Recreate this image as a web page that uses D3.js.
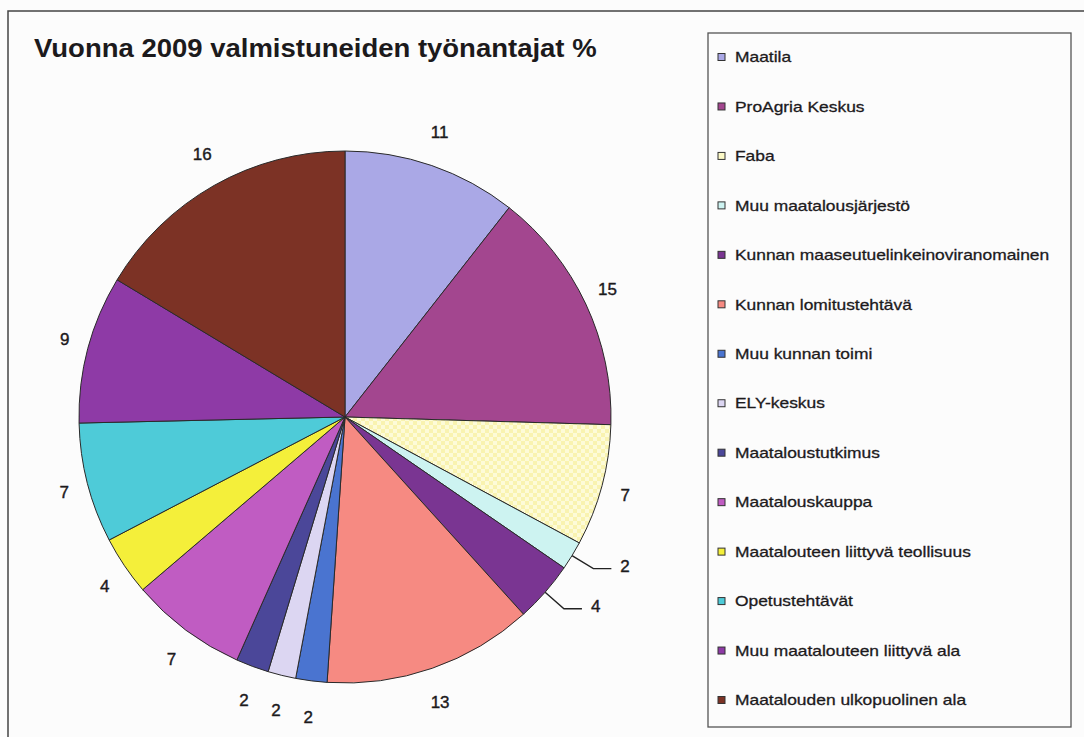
<!DOCTYPE html>
<html>
<head>
<meta charset="utf-8">
<script src="https://cdn.jsdelivr.net/npm/d3@7"></script>
<style>
  html, body { margin: 0; padding: 0; background: #fcfcfc; }
  svg { display: block; }
</style>
</head>
<body>
<svg id="chart" width="1084" height="737"></svg>
<script>
// ---- data ----
const title = "Vuonna 2009 valmistuneiden työnantajat %";
const categories = [
  "Maatila",
  "ProAgria Keskus",
  "Faba",
  "Muu maatalousjärjestö",
  "Kunnan maaseutuelinkeinoviranomainen",
  "Kunnan lomitustehtävä",
  "Muu kunnan toimi",
  "ELY-keskus",
  "Maataloustutkimus",
  "Maatalouskauppa",
  "Maatalouteen liittyvä teollisuus",
  "Opetustehtävät",
  "Muu maatalouteen liittyvä ala",
  "Maatalouden ulkopuolinen ala"
];
// shares
const values = [10.6, 14.9, 7.4, 1.75, 3.7, 12.8, 1.9, 1.7, 2.0, 7.1, 3.6, 7.3, 9.0, 16.4];
// printed data labels
const labels = ["11", "15", "7", "2", "4", "13", "2", "2", "2", "7", "4", "7", "9", "16"];
const colors = [
  "#aaa8e6", "#a3468f", "#fcf9c6", "#cdf3f1", "#7a3592", "#f68a82", "#4a74d0",
  "#dcd6f2", "#4b4799", "#c05cc2", "#f4ef3a", "#4ecbd8", "#8e3aa6", "#7c3225"
];
// labels drawn with a leader line
const leaderIdx = [3, 4];

// ---- layout ----
const svg = d3.select("#chart");
const cx = 345, cy = 417, R = 266;
const labRx = 290, labRy = 302;
const font = "'Liberation Sans', Arial, sans-serif";
const ink = "#1c1a1c";

// Faba checker pattern
const defs = svg.append("defs");
const pat = defs.append("pattern").attr("id", "faba").attr("patternUnits", "userSpaceOnUse")
  .attr("width", 8).attr("height", 8);
pat.append("rect").attr("width", 8).attr("height", 8).attr("fill", "#fdfbd8");
pat.append("rect").attr("width", 4).attr("height", 4).attr("fill", "#f9f3b0");
pat.append("rect").attr("x", 4).attr("y", 4).attr("width", 4).attr("height", 4).attr("fill", "#f9f3b0");

// outer frame
svg.append("path").attr("d", "M8,737 L8,11 L1084,11")
  .attr("fill", "none").attr("stroke", "#444").attr("stroke-width", 1.5);

// title (scan is slightly stretched horizontally)
svg.append("text").attr("transform", "translate(34,57) scale(1.1,1)")
  .attr("font-family", font).attr("font-size", 25).attr("font-weight", "bold")
  .attr("fill", ink).text(title);

// pie
const data = categories.map((c, i) => ({ name: c, value: values[i], label: labels[i], color: colors[i], idx: i }));
const pie = d3.pie().value(d => d.value).sort(null);
const arcs = pie(data);
const arc = d3.arc().innerRadius(0).outerRadius(R);

const g = svg.append("g").attr("transform", `translate(${cx},${cy})`);
g.selectAll("path.slice").data(arcs).join("path")
  .attr("class", "slice")
  .attr("d", arc)
  .attr("fill", d => d.data.idx === 2 ? "url(#faba)" : d.data.color)
  .attr("stroke", "#2a2a2a").attr("stroke-width", 1);

// data labels
const mid = d => (d.startAngle + d.endAngle) / 2;
const pt = (a, r) => [Math.sin(a) * r, -Math.cos(a) * r];

arcs.forEach(d => {
  const a = mid(d);
  if (leaderIdx.includes(d.data.idx)) {
    const p0 = pt(a, R);
    const p1 = pt(a, R + 25);
    const p2 = [p1[0] + 18, p1[1]];
    g.append("path").attr("d", `M${p0[0]},${p0[1]} L${p1[0]},${p1[1]} L${p2[0]},${p2[1]}`)
      .attr("fill", "none").attr("stroke", "#222").attr("stroke-width", 1.4);
    g.append("text").attr("x", p2[0] + 9).attr("y", p2[1] - 3)
      .attr("dy", "0.35em").attr("font-family", font).attr("font-size", 17)
      .attr("fill", ink).attr("stroke", ink).attr("stroke-width", 0.4)
      .text(d.data.label);
  } else {
    const x = Math.sin(a) * labRx;
    const y = -Math.cos(a) * labRy;
    g.append("text").attr("x", x).attr("y", y)
      .attr("text-anchor", "middle").attr("dy", "0.35em")
      .attr("font-family", font).attr("font-size", 17)
      .attr("fill", ink).attr("stroke", ink).attr("stroke-width", 0.4)
      .text(d.data.label);
  }
});

// legend
const lx = 708, ly = 33, lw = 363, lh = 694;
svg.append("rect").attr("x", lx).attr("y", ly).attr("width", lw).attr("height", lh)
  .attr("fill", "none").attr("stroke", "#555").attr("stroke-width", 1.3);
const ys = d3.scalePoint().domain(categories).range([57, 700]);
const leg = svg.append("g").selectAll("g").data(data).join("g")
  .attr("transform", d => `translate(0,${ys(d.name)})`);
leg.append("rect").attr("x", 718).attr("y", -3.5).attr("width", 7).attr("height", 7)
  .attr("fill", d => d.color).attr("stroke", "#333").attr("stroke-width", 1);
leg.append("text").attr("transform", "translate(735,0) scale(1.16,1)").attr("dy", "0.35em")
  .attr("font-family", font).attr("font-size", 15).attr("fill", ink)
  .attr("stroke", ink).attr("stroke-width", 0.3)
  .text(d => d.name);
</script>
</body>
</html>
